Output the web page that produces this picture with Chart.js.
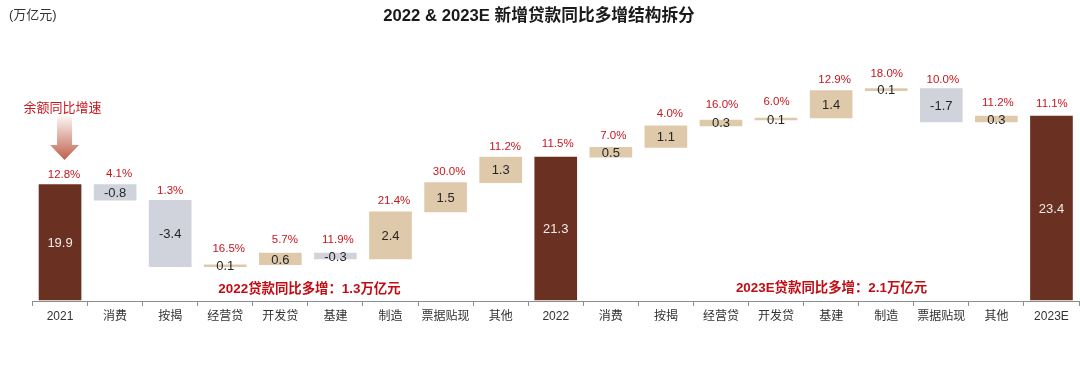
<!DOCTYPE html>
<html>
<head>
<meta charset="utf-8">
<style>
  html, body { margin: 0; padding: 0; background: #fff; }
  canvas { display: block; }
</style>
<script src="https://cdn.jsdelivr.net/npm/chart.js@4/dist/chart.umd.min.js"></script>
</head>
<body>
<canvas id="bridge" width="1080" height="365"></canvas>
<script>
const categories = ["2021", "消费", "按揭", "经营贷", "开发贷", "基建", "制造", "票据贴现", "其他", "2022", "消费", "按揭", "经营贷", "开发贷", "基建", "制造", "票据贴现", "其他", "2023E"];
const barStart = [14, 19.9, 19.1, 15.7, 15.8, 16.4, 16.1, 18.5, 20.0, 14, 21.3, 21.8, 22.9, 23.2, 23.3, 24.7, 24.8, 23.1, 14];
const barEnd = [19.9, 19.1, 15.7, 15.8, 16.4, 16.1, 18.5, 20.0, 21.3, 21.3, 21.8, 22.9, 23.2, 23.3, 24.7, 24.8, 23.1, 23.4, 23.4];
const valueLabels = ["19.9", "-0.8", "-3.4", "0.1", "0.6", "-0.3", "2.4", "1.5", "1.3", "21.3", "0.5", "1.1", "0.3", "0.1", "1.4", "0.1", "-1.7", "0.3", "23.4"];
const growthLabels = ["12.8%", "4.1%", "1.3%", "16.5%", "5.7%", "11.9%", "21.4%", "30.0%", "11.2%", "11.5%", "7.0%", "4.0%", "16.0%", "6.0%", "12.9%", "18.0%", "10.0%", "11.2%", "11.1%"];
const barKinds = ["total", "down", "down", "up", "up", "down", "up", "up", "up", "total", "up", "up", "up", "up", "up", "up", "down", "up", "total"];

// growth labels were placed by hand in the original, so they sit a bit off the bar centre
const growthGaps = [10, 11, 9, 16, 13, 13, 11, 11, 10, 13, 12, 12, 15, 16, 11, 15, 9, 13, 12];
const growthShifts = [4, 4, 0, 3.5, 4.5, 2.5, 3.5, 3.5, 4.5, 2, 2.5, 4, 1, 0.5, 3.5, 0.5, 1.5, 1.5, 0.5];

const kindColors = { total: "#6a3022", up: "#dfc9ab", down: "#d0d3dc" };
const latin = '"Liberation Sans", "Noto Sans CJK SC", sans-serif';
const red = "#c8161d";

function drawText(ctx, text, x, y, font, color, align) {
  ctx.font = font;
  ctx.fillStyle = color;
  ctx.textAlign = align || "center";
  ctx.textBaseline = "middle";
  ctx.fillText(text, x, y);
}

const labelsPlugin = {
  id: "bridgeLabels",
  afterDatasetsDraw(chart) {
    const ctx = chart.ctx;
    const xs = chart.scales.x;
    const ys = chart.scales.y;
    ctx.save();

    categories.forEach(function (c, i) {
      const x = xs.getPixelForValue(i);
      const top = ys.getPixelForValue(Math.max(barStart[i], barEnd[i]));
      const mid = ys.getPixelForValue((barStart[i] + barEnd[i]) / 2);
      const col = barKinds[i] === "total" ? "#f2ece8" : "#262626";
      drawText(ctx, valueLabels[i], x, mid + 1, "13px " + latin, col);
      drawText(ctx, growthLabels[i], x + growthShifts[i], top - growthGaps[i], "11.5px " + latin, red);
    });

    drawText(ctx, "2022 & 2023E 新增贷款同比多增结构拆分", 539, 16, "bold 16.7px " + latin, "#1a1a1a");
    drawText(ctx, "(万亿元)", 9, 15, "13px " + latin, "#333333", "left");
    drawText(ctx, "余额同比增速", 62.5, 108, "13px " + latin, red);
    drawText(ctx, "2022贷款同比多增\uFF1A1.3万亿元", 309.5, 289, "bold 13.4px " + latin, "#c00d14");
    drawText(ctx, "2023E贷款同比多增\uFF1A2.1万亿元", 831.5, 288, "bold 13.4px " + latin, "#c00d14");

    // arrow under the note, points at the first bar
    const ax = xs.getPixelForValue(0) + 4.5;
    const g = ctx.createLinearGradient(0, 116, 0, 160);
    g.addColorStop(0, "#fbf6f4");
    g.addColorStop(1, "#bf5f4b");
    ctx.fillStyle = g;
    ctx.beginPath();
    ctx.moveTo(ax - 7.5, 116);
    ctx.lineTo(ax + 7.5, 116);
    ctx.lineTo(ax + 7.5, 145);
    ctx.lineTo(ax + 14.5, 145);
    ctx.lineTo(ax, 160);
    ctx.lineTo(ax - 14.5, 145);
    ctx.lineTo(ax - 7.5, 145);
    ctx.closePath();
    ctx.fill();

    ctx.restore();
  }
};

new Chart(document.getElementById("bridge"), {
  type: "bar",
  data: {
    labels: categories,
    datasets: [{
      data: barStart.map(function (s, i) { return [s, barEnd[i]]; }),
      backgroundColor: barKinds.map(function (k) { return kindColors[k]; }),
      borderWidth: 0,
      borderSkipped: false,
      barThickness: 42
    }]
  },
  options: {
    responsive: false,
    animation: false,
    devicePixelRatio: 1,
    layout: { padding: { left: 32.5, right: 1, top: 0, bottom: 0 } },
    plugins: { legend: { display: false }, tooltip: { enabled: false }, title: { display: false } },
    scales: {
      x: {
        grid: { drawOnChartArea: false, drawTicks: true, tickLength: 5, color: "#8c8c8c", offset: true },
        border: { color: "#8c8c8c", width: 1 },
        ticks: { color: "#333333", font: { size: 12, family: latin }, padding: 3, maxRotation: 0, autoSkip: false },
        afterFit: function (scale) { scale.height = 64; }
      },
      y: { display: false, min: 13.95, max: 29.33 }
    }
  },
  plugins: [labelsPlugin]
});
</script>
</body>
</html>
